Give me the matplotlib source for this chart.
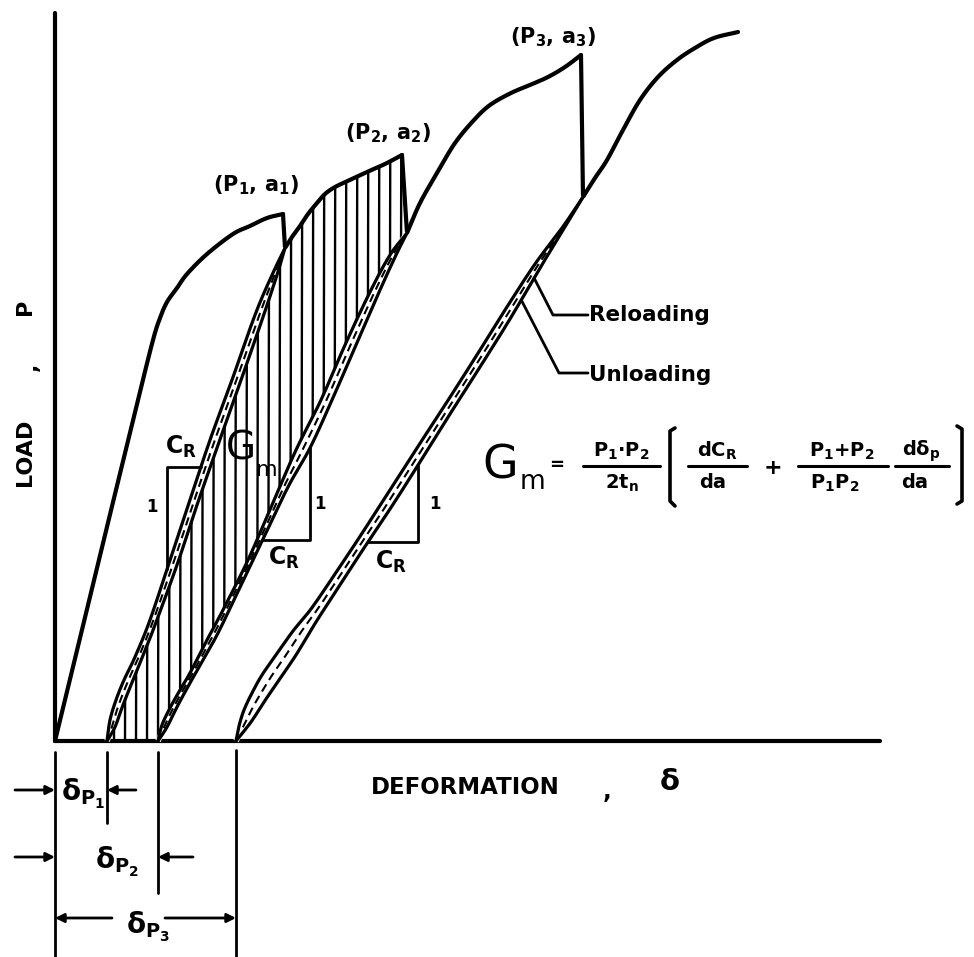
import numpy as np
import matplotlib
matplotlib.use("Agg")
import matplotlib.pyplot as plt
from matplotlib.patches import Polygon

plt.rcParams["font.family"] = ["DejaVu Sans"]
plt.rcParams["mathtext.fontset"] = "custom"
plt.rcParams["mathtext.rm"] = "DejaVu Sans:bold"
plt.rcParams["mathtext.it"] = "DejaVu Sans:bold"
plt.rcParams["mathtext.bf"] = "DejaVu Sans:bold"
plt.rcParams["mathtext.sf"] = "DejaVu Sans:bold"

# ---------------------------------------------------------------
# Load (P) versus deformation (delta) record, schematic units
# ---------------------------------------------------------------
peak_def = [228, 347, 526]        # (P1,a1), (P2,a2), (P3,a3)
peak_load = [527, 586, 686]
drop_def = [230, 352, 528]        # load after each crack jump
drop_load = [493, 508, 544]
plastic_def = [52, 103, 181]      # delta_p1, delta_p2, delta_p3

# loading branches (interior points)
load1_def = [40, 83, 98, 105, 112, 122, 132, 152, 178, 195, 212]
load1_load = [165, 341, 401, 423, 439, 453, 467, 487, 507, 515, 523]
load2_def = [237, 245, 253, 262, 270, 280, 295, 312, 330]
load2_load = [504, 515, 527, 538, 547, 554, 561, 569, 577]
load3_def = [365, 382, 400, 419, 435, 456, 475, 493, 510]
load3_load = [538, 568, 598, 621, 636, 648, 656, 664, 674]
load4_def = [540, 552, 568, 585, 603, 622, 640, 659, 683]
load4_load = [563, 581, 611, 641, 664, 681, 693, 703, 709]

# unloading / reloading loops (interior points, upper and lower branch)
loop1_up_def = [55, 61, 69, 80, 95, 115, 135, 155, 177, 200, 217]
loop1_up_load = [21, 41, 61, 84, 121, 181, 241, 301, 361, 426, 466]
loop1_dn_def = [60, 68, 78, 89, 100, 122, 142, 163, 185, 207, 222]
loop1_dn_load = [14, 36, 61, 88, 116, 176, 236, 296, 358, 421, 466]

loop2_up_def = [107, 115, 125, 135, 152, 168, 193, 217, 241, 266, 290, 315, 335]
loop2_up_load = [16, 33, 51, 68, 101, 131, 181, 236, 291, 341, 396, 449, 486]
loop2_dn_def = [112, 123, 135, 148, 162, 178, 207, 233, 255, 277, 301, 325, 341]
loop2_dn_load = [14, 36, 58, 81, 106, 139, 200, 254, 293, 341, 396, 451, 486]

loop3_up_def = [184, 189, 197, 207, 221, 238, 256, 278, 304, 331, 360, 390, 420, 450, 480, 507]
loop3_up_load = [15, 31, 48, 66, 86, 110, 132, 164, 203, 245, 290, 336, 383, 431, 477, 513]
loop3_dn_def = [196, 209, 224, 241, 261, 283, 309, 337, 365, 395, 425, 455, 485, 507]
loop3_dn_load = [19, 39, 61, 86, 119, 153, 193, 235, 279, 327, 374, 422, 473, 509]

LW_MAIN = 3.0
LW_LOOP = 2.3
INK = "black"


def smooth(xs, ys, n=14):
    """Catmull-Rom pass through the given vertices for a hand-drawn look."""
    pts = np.column_stack([xs, ys]).astype(float)
    if len(pts) < 3:
        return pts[:, 0], pts[:, 1]
    P = np.vstack([2 * pts[0] - pts[1], pts, 2 * pts[-1] - pts[-2]])
    t = np.linspace(0, 1, n, endpoint=False)[:, None]
    out = []
    for i in range(1, len(P) - 2):
        p0, p1, p2, p3 = P[i - 1], P[i], P[i + 1], P[i + 2]
        out.append(0.5 * (2 * p1 + (-p0 + p2) * t
                          + (2 * p0 - 5 * p1 + 4 * p2 - p3) * t ** 2
                          + (-p0 + 3 * p1 - 3 * p2 + p3) * t ** 3))
    out.append(pts[-1:])
    out = np.vstack(out)
    return out[:, 0], out[:, 1]


def line(ax, x, y, lw=LW_MAIN, **kw):
    ax.plot(x, y, color=INK, lw=lw, solid_capstyle="round",
            solid_joinstyle="round", **kw)


fig = plt.figure(figsize=(9.74, 9.57), dpi=100)
ax = fig.add_axes([0, 0, 1, 1])
ax.set_xlim(-55, 919)
ax.set_ylim(-216, 741)
ax.axis("off")

# ---- axes -------------------------------------------------------
line(ax, [0, 0], [0, 728])
line(ax, [0, 825], [0, 0])

# ---- loading envelope ------------------------------------------
env_segments = [
    ([0] + load1_def + [peak_def[0]], [0] + load1_load + [peak_load[0]]),
    ([drop_def[0]] + load2_def + [peak_def[1]], [drop_load[0]] + load2_load + [peak_load[1]]),
    ([drop_def[1]] + load3_def + [peak_def[2]], [drop_load[1]] + load3_load + [peak_load[2]]),
    ([drop_def[2]] + load4_def, [drop_load[2]] + load4_load),
]
env_smooth = [smooth(x, y) for x, y in env_segments]
for sx, sy in env_smooth:
    line(ax, sx, sy)
for i in range(3):
    line(ax, [peak_def[i], drop_def[i]], [peak_load[i], drop_load[i]])

# ---- loops ------------------------------------------------------
loops = [
    (loop1_up_def, loop1_up_load, loop1_dn_def, loop1_dn_load),
    (loop2_up_def, loop2_up_load, loop2_dn_def, loop2_dn_load),
    (loop3_up_def, loop3_up_load, loop3_dn_def, loop3_dn_load),
]
loop_up, loop_dn = [], []
for i, (ux, uy, dx, dy) in enumerate(loops):
    base, top_x, top_y = plastic_def[i], drop_def[i], drop_load[i]
    loop_up.append(smooth([base] + ux + [top_x], [0] + uy + [top_y]))
    loop_dn.append(smooth([base] + dx + [top_x], [0] + dy + [top_y]))

# hatched region: energy between first reloading and second unloading
hx = np.concatenate([loop_dn[0][0], env_smooth[1][0][1:], [drop_def[1]],
                     loop_up[1][0][::-1]])
hy = np.concatenate([loop_dn[0][1], env_smooth[1][1][1:], [drop_load[1]],
                     loop_up[1][1][::-1]])
hatch_poly = Polygon(np.column_stack([hx, hy]), closed=True,
                     facecolor="none", edgecolor="none")
ax.add_patch(hatch_poly)
for xv in np.arange(plastic_def[0] + 7, peak_def[1] + 2, 11):
    h, = ax.plot([xv, xv + 1.5], [-2, 700], color=INK, lw=1.7)
    h.set_clip_path(hatch_poly)

for i in range(3):
    ux, uy = loop_up[i]
    dx, dy = loop_dn[i]
    ys = np.linspace(0, drop_load[i], 160)
    mid = 0.5 * (np.interp(ys, uy, ux) + np.interp(ys, dy, dx))
    ax.plot(mid, ys, color="white", lw=4.0, solid_capstyle="butt")
    ax.plot(mid[4:-4], ys[4:-4], color=INK, lw=1.5, ls=(0, (4, 2.5)))
    line(ax, ux, uy, lw=LW_LOOP)
    line(ax, dx, dy, lw=LW_LOOP)


def x_at(curve, yv):
    return float(np.interp(yv, curve[1], curve[0]))


def y_at(curve, xv):
    return float(np.interp(xv, curve[0], curve[1]))


# ---- compliance slope triangles ---------------------------------
LW_TRI = 2.0
c = loop_up[0]
cx, cy = 112, 274
line(ax, [x_at(c, cy), cx, cx], [cy, cy, y_at(c, cx)], lw=LW_TRI)
c = loop_dn[1]
cx, cy = 255, 201
line(ax, [x_at(c, cy), cx, cx], [cy, cy, y_at(c, cx)], lw=LW_TRI)
c = loop_dn[2]
cx, cy = 363, 199
line(ax, [x_at(c, cy), cx, cx], [cy, cy, y_at(c, cx)], lw=LW_TRI)

tri_txt = dict(fontsize=12, fontweight="bold", ha="center", va="center")
ax.text(97, 234, "1", **tri_txt)
ax.text(265, 237, "1", **tri_txt)
ax.text(380, 237, "1", **tri_txt)
cr = dict(fontsize=17, fontweight="bold", ha="left", va="center")
ax.text(110, 294, r"C$_R$", **cr)
ax.text(213, 183, r"C$_R$", **cr)
ax.text(320, 179, r"C$_R$", **cr)

# G_m inside the hatched area
ax.text(186, 293, "G", fontsize=28, ha="center", va="center")
ax.text(212, 271, "m", fontsize=16, ha="center", va="center")

# ---- peak labels ------------------------------------------------
pk = dict(fontsize=15, fontweight="bold", ha="center", va="center")
ax.text(201, 556, r"(P$_1$, a$_1$)", **pk)
ax.text(333, 608, r"(P$_2$, a$_2$)", **pk)
ax.text(498, 704, r"(P$_3$, a$_3$)", **pk)

# ---- reloading / unloading call-outs ----------------------------
t_rel = (x_at(loop_dn[2], 463), 463)
t_unl = (x_at(loop_dn[2], 441), 441)
line(ax, [t_rel[0], 498, 533], [t_rel[1], 426, 426], lw=2.0)
line(ax, [t_unl[0], 504, 533], [t_unl[1], 368, 368], lw=2.0)
ax.text(534, 426, "Reloading", fontsize=15.5, fontweight="bold",
        ha="left", va="center")
ax.text(534, 366, "Unloading", fontsize=15.5, fontweight="bold",
        ha="left", va="center")

# ---- formula ----------------------------------------------------
fy = 275          # fraction bar level
ftxt = dict(fontsize=14, fontweight="bold", ha="center", va="center")
ax.text(445, fy, "G", fontsize=33, ha="center", va="center")
ax.text(478, fy - 16, "m", fontsize=19, ha="center", va="center")
ax.text(502, fy + 1, "=", fontsize=13, fontweight="bold", ha="center", va="center")
ax.text(566, fy + 15, r"P$_1$·P$_2$", **ftxt)
ax.text(567, fy - 17, r"2t$_n$", **ftxt)
line(ax, [528, 605], [fy, fy], lw=2.2)
# brackets
line(ax, [620, 615, 615, 620], [fy + 38, fy + 35, fy - 35, fy - 40], lw=2.6)
line(ax, [902, 907, 907, 902], [fy + 40, fy + 37, fy - 35, fy - 38], lw=2.6)
ax.text(662, fy + 15, r"dC$_R$", **ftxt)
ax.text(658, fy - 17, "da", **ftxt)
line(ax, [633, 692], [fy, fy], lw=2.2)
ax.text(718, fy - 2, "+", fontsize=16, fontweight="bold", ha="center", va="center")
ax.text(787, fy + 15, r"P$_1$+P$_2$", **ftxt)
ax.text(780, fy - 17, r"P$_1$P$_2$", **ftxt)
line(ax, [743, 833], [fy, fy], lw=2.2)
ax.text(866, fy + 15, r"d$\delta_p$", **ftxt)
ax.text(860, fy - 17, "da", **ftxt)
line(ax, [840, 894], [fy, fy], lw=2.2)

# ---- axis titles ------------------------------------------------
ax.text(-30, 289, "LOAD", fontsize=16, fontweight="bold", rotation=90,
        ha="center", va="center")
ax.text(-24, 374, ",", fontsize=16, fontweight="bold", rotation=90,
        ha="center", va="center")
ax.text(-30, 434, "P", fontsize=16, fontweight="bold", rotation=90,
        ha="center", va="center")
ax.text(410, -47, "DEFORMATION", fontsize=16.5, fontweight="bold",
        ha="center", va="center")
ax.text(552, -52, ",", fontsize=16.5, fontweight="bold", ha="center", va="center")
ax.text(615, -41, "δ", fontsize=21, fontweight="bold", ha="center", va="center")

# ---- plastic deformation dimensions ------------------------------
LW_DIM = 2.0
line(ax, [0, 0], [-11, -216], lw=LW_DIM)
line(ax, [plastic_def[0]] * 2, [-11, -82], lw=LW_DIM)
line(ax, [plastic_def[1]] * 2, [-11, -152], lw=LW_DIM)
line(ax, [plastic_def[2]] * 2, [-9, -216], lw=LW_DIM)

arr = dict(arrowstyle="-|>", color=INK, lw=LW_DIM, mutation_scale=13,
           shrinkA=0, shrinkB=0)
ax.annotate("", xy=(0, -49), xytext=(-40, -49), arrowprops=arr)
ax.annotate("", xy=(plastic_def[0], -49), xytext=(plastic_def[0] + 29, -49), arrowprops=arr)
ax.annotate("", xy=(0, -116), xytext=(-40, -116), arrowprops=arr)
ax.annotate("", xy=(plastic_def[1], -116), xytext=(plastic_def[1] + 35, -116), arrowprops=arr)
ax.annotate("", xy=(0, -177), xytext=(57, -177), arrowprops=arr)
ax.annotate("", xy=(plastic_def[2], -177), xytext=(110, -177), arrowprops=arr)

dl = dict(fontsize=20, ha="center", va="center")
ax.text(28, -53, r"$\delta_{P_1}$", **dl)
ax.text(62, -121, r"$\delta_{P_2}$", **dl)
ax.text(93, -186, r"$\delta_{P_3}$", **dl)

fig.savefig("out.png", dpi=100, facecolor="white")
